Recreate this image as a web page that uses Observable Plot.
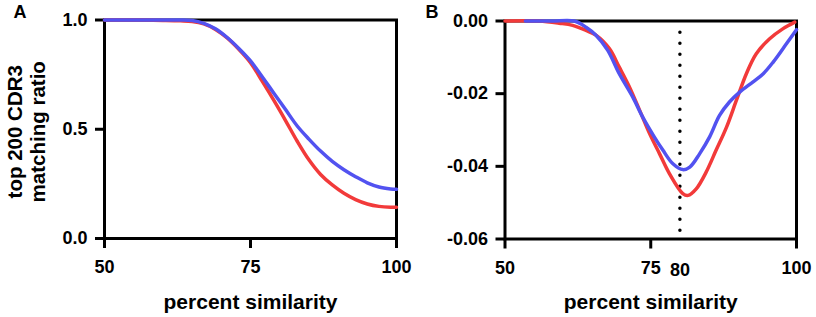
<!DOCTYPE html>
<html><head><meta charset="utf-8">
<script src="https://cdn.jsdelivr.net/npm/d3@7"></script>
<script src="https://cdn.jsdelivr.net/npm/@observablehq/plot@0.6"></script>
<style>
body{margin:0;background:#fff;}
#row{display:flex;width:816px;height:317px;}
#row svg{flex:none;}
</style></head><body><div id="row"></div>
<script>
// Panel A: top 200 CDR3 matching ratio vs percent similarity
const xA    = [50,55,60,63,65,67,69,71,73,75,77,79,81,83,85,87,89,91,93,95,97,99,100];
const blueA = [1.0,1.0,1.0,1.0,0.998,0.985,0.96,0.92,0.87,0.813,0.74,0.665,0.59,0.515,0.455,0.40,0.353,0.315,0.283,0.255,0.236,0.227,0.225];
const redA  = [1.0,1.0,0.998,0.996,0.993,0.982,0.957,0.918,0.866,0.805,0.72,0.632,0.54,0.445,0.36,0.293,0.245,0.207,0.178,0.158,0.147,0.143,0.143];
// Panel B: difference curves
const xBred = [50,55.8,59.3,61.6,63.9,65.6,67.9,69.6,71.3,73.1,74.8,76.5,78.2,80.5,81.4,82.8,84.5,86.2,88,89.7,91.4,93.1,95.4,97.7,99.7];
const bRed  = [0,0,-0.0006,-0.0012,-0.0026,-0.0039,-0.0076,-0.0127,-0.018,-0.0246,-0.031,-0.0365,-0.042,-0.0475,-0.048,-0.0462,-0.0416,-0.0356,-0.0292,-0.0218,-0.0145,-0.009,-0.0049,-0.0021,-0.0003];
const xBblue = [53.5,58,61.9,63.9,65.6,67.6,69.6,71.9,73.6,75.6,77.1,78.8,80.5,81.7,83.4,85.1,86.8,88.5,90.3,92.5,94.3,96,98.3,100];
const bBlue  = [0,0,0,-0.0017,-0.0039,-0.008,-0.0145,-0.0209,-0.0264,-0.0319,-0.0356,-0.0393,-0.0409,-0.0402,-0.0365,-0.0319,-0.026,-0.0223,-0.0195,-0.0168,-0.0145,-0.0113,-0.0062,-0.0024];
const xTicks = [50,75,100];
const yTicksA = [0,0.5,1];
const yTicksB = [0,-0.02,-0.04,-0.06];
const markerX = [80];

const RED = "#f23a3a", BLUE = "#5252f0";
const FONT = '"Liberation Sans", Arial, sans-serif';
const style = {fontFamily: FONT, fontWeight: "bold", fontSize: "18px", background: "transparent", overflow: "visible", color: "black"};
const pts = (xs, ys) => xs.map((x, i) => ({x, y: ys[i]}));

const a = Plot.plot({
  width: 408, height: 317, marginTop: 19.5, marginBottom: 79, marginLeft: 104, marginRight: 12,
  style,
  x: {domain: [50, 100]}, y: {domain: [0, 1]},
  marks: [
    Plot.frame({stroke: "black", strokeWidth: 3}),
    Plot.axisX({ticks: xTicks, tickSize: 10, tickPadding: 12, strokeWidth: 3, label: null, tickFormat: d => String(d)}),
    Plot.axisY({ticks: yTicksA, tickSize: 9, tickPadding: 8, strokeWidth: 3, label: null, tickFormat: d => d.toFixed(1)}),
    Plot.line(pts(xA, redA), {x: "x", y: "y", stroke: RED, strokeWidth: 3.5, curve: "catmull-rom"}),
    Plot.line(pts(xA, blueA), {x: "x", y: "y", stroke: BLUE, strokeWidth: 3.5, curve: "catmull-rom"}),
    Plot.text(["top 200 CDR3\nmatching ratio"], {text: d => d, frameAnchor: "left", rotate: -90, dx: -78.5, dy: 2.5, fontSize: 20.5, lineHeight: 1.1, textAnchor: "middle"}),
    Plot.text(["percent similarity"], {text: d => d, frameAnchor: "bottom", lineAnchor: "bottom", dy: 70, fontSize: 21}),
    Plot.text(["A"], {text: d => d, frameAnchor: "top-left", textAnchor: "start", lineAnchor: "bottom", dx: -91, dy: -2.5, fontSize: 18})
  ]
});

const b = Plot.plot({
  width: 408, height: 317, marginTop: 20.5, marginBottom: 78.5, marginLeft: 96.5, marginRight: 20,
  style,
  x: {domain: [50, 100]}, y: {domain: [-0.06, 0]},
  marks: [
    Plot.frame({stroke: "black", strokeWidth: 3}),
    Plot.axisX({ticks: xTicks, tickSize: 10, tickPadding: 12, strokeWidth: 3, label: null, tickFormat: d => String(d)}),
    Plot.axisY({ticks: yTicksB, tickSize: 9, tickPadding: 8, strokeWidth: 3, label: null, tickFormat: d => d.toFixed(2)}),
    Plot.ruleX(markerX, {x: d => d, y1: -0.0032, y2: -0.0585, stroke: "black", strokeWidth: 3.5, strokeDasharray: "0,11", strokeLinecap: "round"}),
    Plot.text(markerX, {x: d => d, text: d => String(d), frameAnchor: "bottom", lineAnchor: "top", dy: 24.5, fontSize: 18}),
    Plot.line(pts(xBred, bRed), {x: "x", y: "y", stroke: RED, strokeWidth: 3.5, curve: "catmull-rom"}),
    Plot.line(pts(xBblue, bBlue), {x: "x", y: "y", stroke: BLUE, strokeWidth: 3.5, curve: "catmull-rom"}),
    Plot.text(["percent similarity"], {text: d => d, frameAnchor: "bottom", lineAnchor: "bottom", dy: 70, fontSize: 21}),
    Plot.text(["B"], {text: d => d, frameAnchor: "top-left", textAnchor: "start", lineAnchor: "bottom", dx: -79.5, dy: -3.5, fontSize: 18})
  ]
});

const row = document.getElementById("row");
row.appendChild(a);
row.appendChild(b);
</script></body></html>
